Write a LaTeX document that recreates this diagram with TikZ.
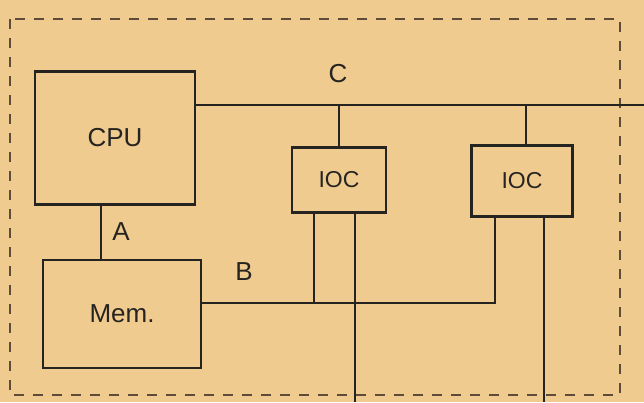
\documentclass[tikz,border=0pt]{standalone}
\usepackage{fontspec}
\setmainfont{Liberation Sans}
\usetikzlibrary{calc}

\definecolor{paper}{HTML}{F0CB8F}
\definecolor{ink}{HTML}{262420}
\definecolor{frameink}{HTML}{5E4C38}

\begin{document}
\begin{tikzpicture}[
      x=1pt, y=-1pt,
      font=\fontsize{26}{28}\selectfont,
      box/.style={draw=ink, line width=2.6pt, text=ink, inner sep=0pt},
      wire/.style={draw=ink, line width=2.3pt},
      tag/.style={text=ink, inner sep=1pt},
    ]
    % paper and outer frame
    \fill[paper] (0,0) rectangle (644,402);
    \useasboundingbox (0,0) rectangle (644,402);
    \draw[frameink, line width=2pt, dash pattern=on 10pt off 9pt]
      (10,19) rectangle (620,395);

    % units
    \node[box, minimum width=160pt, minimum height=133pt] (cpu) at (115,138) {CPU};
    \node[box, minimum width=158pt, minimum height=108pt] (mem) at (122,314) {Mem.};
    \node[box, minimum width=94pt, minimum height=65pt,
          font=\fontsize{23}{25}\selectfont] (ioc1) at (339,180) {IOC};
    \node[box, minimum width=101pt, minimum height=71pt,
          font=\fontsize{23}{25}\selectfont] (ioc2) at (522,181) {IOC};

    % bus ends
    \coordinate (cstart) at (cpu.east |- 0,105);
    \coordinate (cend) at (644,105);
    \coordinate (bstart) at (mem.east |- 0,303);
    \coordinate (ioc1a) at ($(ioc1.south west)+(23,0)$);
    \coordinate (ioc1b) at ($(ioc1.south west)+(64,0)$);
    \coordinate (ioc2a) at ($(ioc2.south west)+(25,0)$);
    \coordinate (ioc2b) at ($(ioc2.south west)+(74,0)$);
    \coordinate (out1) at (ioc1b |- 0,402);
    \coordinate (out2) at (ioc2b |- 0,402);

    % bus A
    \draw[wire] (cpu.south -| 101,0) -- (mem.north -| 101,0);
    \node[tag] (la) at (121,232) {A};
    % bus B
    \draw[wire] (bstart) -| (ioc2a);
    \draw[wire] (ioc1a) -- (ioc1a |- bstart);
    \node[tag] (lb) at (244,272) {B};
    % bus C
    \draw[wire] (cstart) -- (cend);
    \draw[wire] (ioc1.north) -- (ioc1.north |- cstart);
    \draw[wire] (ioc2.north) ++(4,0) coordinate (ioc2top) -- (ioc2top |- cstart);
    \node[tag] (lc) at (338,74) {C};
    % lines leaving the frame
    \draw[wire] (ioc1b) -- (out1);
    \draw[wire] (ioc2b) -- (out2);
  \end{tikzpicture}
\end{document}
